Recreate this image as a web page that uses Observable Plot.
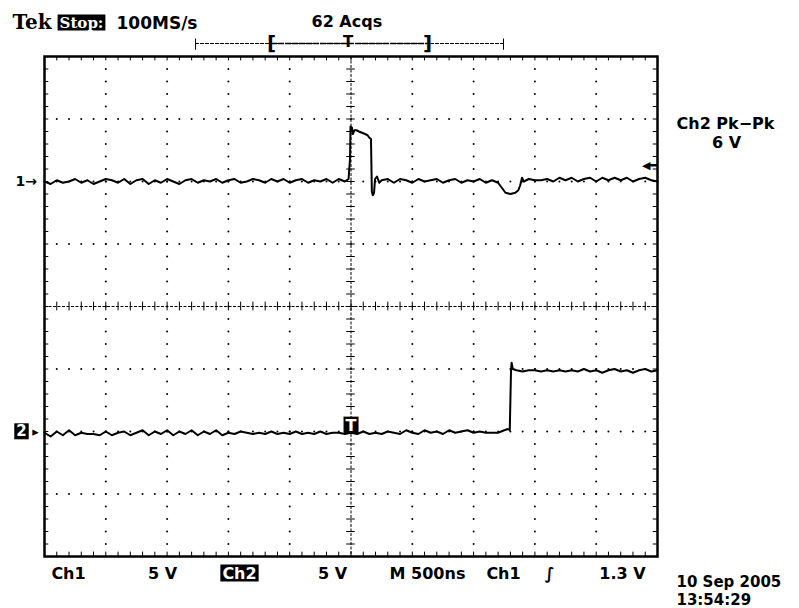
<!DOCTYPE html>
<html><head><meta charset="utf-8">
<script src="https://cdn.jsdelivr.net/npm/d3@7"></script>
<script src="https://cdn.jsdelivr.net/npm/@observablehq/plot@0.6"></script>
<style>
html,body{margin:0;padding:0;background:#fff;}
#chart svg{display:block;}
</style></head><body><div id="chart"></div>
<script>
// ---------- DATA ----------
// time in ns (trigger at 0), volts per channel
const ch1Samples = [
[-2500,0.0],[-2450,-0.2],[-2400,0.1],[-2350,-0.1],[-2300,0.0],[-2250,0.2],[-2200,-0.1],[-2150,0.1],
[-2100,-0.2],[-2050,0.0],[-2000,0.2],[-1950,0.1],[-1900,-0.1],[-1850,0.2],[-1800,-0.2],[-1750,0.1],
[-1700,0.2],[-1650,-0.2],[-1600,0.1],[-1550,-0.1],[-1500,0.2],[-1450,0.0],[-1400,-0.2],[-1350,0.1],
[-1300,0.2],[-1250,-0.1],[-1200,0.1],[-1150,0.0],[-1100,0.2],[-1050,-0.1],[-1000,0.1],[-950,0.2],
[-900,-0.1],[-850,0.0],[-800,0.2],[-750,0.1],[-700,-0.1],[-650,0.2],[-600,0.0],[-550,0.2],
[-500,-0.1],[-450,0.1],[-400,0.2],[-350,-0.1],[-300,0.1],[-250,0.0],[-200,0.2],[-150,-0.1],
[-100,0.2],[-50,0.0],[-20,0.2],[-8,1.8],[-4,4.4],[8,4.3],[16,3.8],[28,4.1],[45,4.1],[65,4.0],
[90,3.9],[115,3.8],[135,3.7],[150,3.5],[163,3.4],[170,-0.8],[178,-1.1],[188,-0.9],[196,0.2],
[212,0.4],[230,-0.1],[250,0.1],[300,0.2],[350,-0.1],[400,0.2],[450,0.1],[500,-0.1],[550,0.2],
[600,0.0],[650,0.1],[700,0.2],[750,-0.1],[800,0.1],[850,0.2],[900,-0.1],[950,0.1],[1000,0.0],
[1050,0.2],[1100,-0.1],[1150,0.1],[1200,-0.1],[1230,-0.5],[1260,-0.9],[1300,-1.0],[1340,-0.9],
[1365,-0.7],[1380,-0.3],[1395,0.3],[1410,0.0],[1450,0.2],[1500,0.1],[1550,0.1],[1600,0.2],
[1650,0.0],[1700,0.3],[1750,0.1],[1800,0.3],[1850,0.0],[1900,0.2],[1950,0.3],[2000,0.0],
[2050,0.3],[2100,0.1],[2150,0.3],[2200,0.1],[2250,0.3],[2300,0.0],[2350,0.2],[2400,0.3],
[2450,0.1],[2500,0.0]
];
const ch2Samples = [
[-2500,-0.1],[-2450,-0.4],[-2400,0.0],[-2350,-0.3],[-2300,0.1],[-2250,-0.3],[-2200,-0.1],[-2150,-0.2],
[-2100,-0.2],[-2050,-0.3],[-2000,0.0],[-1950,-0.3],[-1900,-0.1],[-1850,0.0],[-1800,-0.3],[-1750,-0.1],
[-1700,0.1],[-1650,-0.3],[-1600,0.0],[-1550,-0.2],[-1500,0.1],[-1450,-0.3],[-1400,0.0],[-1350,-0.2],
[-1300,0.1],[-1250,-0.3],[-1200,0.0],[-1150,-0.2],[-1100,0.1],[-1050,-0.3],[-1000,-0.1],[-950,-0.2],
[-900,0.0],[-850,-0.1],[-800,-0.2],[-750,-0.1],[-700,-0.2],[-650,0.0],[-600,-0.2],[-550,-0.1],
[-500,-0.2],[-450,0.0],[-400,-0.2],[-350,-0.1],[-300,-0.2],[-250,0.0],[-200,-0.2],[-150,-0.1],
[-100,-0.1],[-50,-0.2],[0,-0.1],[50,-0.2],[100,0.0],[150,-0.2],[200,-0.1],[250,-0.2],[300,0.0],
[350,-0.1],[400,-0.2],[450,0.1],[500,-0.1],[550,-0.2],[600,0.1],[650,-0.1],[700,0.0],[750,-0.2],
[800,0.1],[850,-0.1],[900,0.0],[950,0.1],[1000,-0.1],[1050,0.0],[1100,-0.1],[1150,-0.1],[1200,-0.1],
[1250,0.1],[1280,0.2],[1295,0.1],[1305,4.8],[1310,5.5],[1320,5.0],[1350,4.9],[1400,4.8],[1450,4.9],
[1500,4.9],[1550,4.8],[1600,4.9],[1650,4.8],[1700,4.9],[1750,4.8],[1800,4.9],[1850,4.8],[1900,5.0],
[1950,4.8],[2000,4.9],[2050,4.7],[2100,4.9],[2150,5.0],[2200,4.8],[2250,4.9],[2300,4.7],[2350,4.9],
[2400,5.0],[2450,4.8],[2500,4.9]
];
const majorTimes = [-2500,-2000,-1500,-1000,-500,0,500,1000,1500,2000,2500];
const majorDivs = [-4,-3,-2,-1,0,1,2,3,4];
const ch1OffsetDiv = 2;
const ch2OffsetDiv = -2;
const voltsPerDiv = 5;
const triggerLevelV = 1.3;
const recordSpan = [-1268, 1244];
const viewSpan = [-648, 624];
const headerLabels = ["Tek", "Stop:", "100MS/s", "62 Acqs"];
const measureLabels = ["Ch2 Pk\u2212Pk", "6 V"];
const footerLabels = ["Ch1", "5 V", "Ch2", "5 V", "M 500ns", "Ch1", "\u222B", "1.3 V"];
const dateLabels = ["10 Sep 2005", "13:54:29"];

// ---------- LAYOUT ----------
const W = 799, H = 608, ML = 44, MR = 142, MT = 56, MB = 52;
const F = "DejaVu Sans, Liberation Sans, sans-serif";
const minorT = d3.range(-25, 26).map(i => i * 100);
const minorY = d3.range(-20, 21).map(i => i / 5);

const hDots = [];
for (const y of majorDivs) if (y !== -4 && y !== 0 && y !== 4)
  for (const t of minorT) if (t !== -2500 && t !== 2500) hDots.push({t, y});
const vDots = [];
for (const t of majorTimes) if (t !== -2500 && t !== 0 && t !== 2500)
  for (const y of minorY) if (y !== -4 && y !== 4) vDots.push({t, y});

const ch1 = ch1Samples.map(([t, v]) => ({t, y: ch1OffsetDiv + v / voltsPerDiv}));
const ch2 = ch2Samples.map(([t, v]) => ({t, y: ch2OffsetDiv + v / voltsPerDiv}));

function label(text, px, py, o = {}) {
  return Plot.text([text], {
    text: d => d, frameAnchor: "top-left", dx: px - ML, dy: py - MT,
    textAnchor: o.anchor || "start", lineAnchor: "bottom",
    fontSize: o.size || 17, fontWeight: o.weight || "bold",
    fontFamily: o.family || F, fill: o.fill || "black"
  });
}
const tk = 0.07, tkT = 35;

const svg = Plot.plot({
  width: W, height: H, marginLeft: ML, marginRight: MR, marginTop: MT, marginBottom: MB,
  x: {domain: [-2500, 2500], axis: null},
  y: {domain: [-4, 4], axis: null},
  style: {background: "white", overflow: "visible"},
  marks: [
    Plot.dot(hDots, {x: "t", y: "y", r: 1, fill: "black"}),
    Plot.dot(vDots, {x: "t", y: "y", r: 1, fill: "black"}),
    Plot.ruleY([0], {strokeWidth: 1, strokeDasharray: "3,1.5"}),
    Plot.ruleX([0], {strokeWidth: 1, strokeDasharray: "3,1.5"}),
    Plot.ruleX(minorT, {x: d => d, y1: -tk, y2: tk, strokeWidth: 1}),
    Plot.ruleY(minorY, {y: d => d, x1: -tkT, x2: tkT, strokeWidth: 1}),
    Plot.ruleX(minorT, {x: d => d, y1: 4, y2: 4 - tk, strokeWidth: 1}),
    Plot.ruleX(minorT, {x: d => d, y1: -4, y2: -4 + tk, strokeWidth: 1}),
    Plot.ruleY(minorY, {y: d => d, x1: -2500, x2: -2500 + tkT, strokeWidth: 1}),
    Plot.ruleY(minorY, {y: d => d, x1: 2500, x2: 2500 - tkT, strokeWidth: 1}),
    Plot.frame({stroke: "black", strokeWidth: 2.5}),
    Plot.line(ch1, {x: "t", y: "y", stroke: "black", strokeWidth: 2, strokeLinejoin: "round"}),
    Plot.line(ch2, {x: "t", y: "y", stroke: "black", strokeWidth: 2, strokeLinejoin: "round"}),
    // record bar above the frame
    Plot.ruleY([4], {x1: recordSpan[0], x2: recordSpan[1], dy: -13, strokeWidth: 1, strokeDasharray: "4,1"}),
    Plot.ruleY([4], {x1: viewSpan[0], x2: viewSpan[1], dy: -13, strokeWidth: 1.5, strokeDasharray: "6,1"}),
    Plot.ruleX(recordSpan, {x: d => d, y1: 4 + 0.1, y2: 4 + 0.28, strokeWidth: 1}),
    Plot.text(["["], {x: viewSpan[0], y: 4, dy: -13, text: d => d, fontSize: 20, fontWeight: "bold", fontFamily: F, lineAnchor: "middle"}),
    Plot.text(["]"], {x: viewSpan[1], y: 4, dy: -13, text: d => d, fontSize: 20, fontWeight: "bold", fontFamily: F, lineAnchor: "middle"}),
    Plot.text(["T"], {x: 0, y: 4, dy: -14, dx: -3, text: d => d, fontSize: 15, fontWeight: "bold", fontFamily: F, lineAnchor: "middle"}),
    // channel ground markers & trigger level
    Plot.text(["1\u2192"], {x: -2500, y: ch1OffsetDiv, dx: -29, text: d => d, textAnchor: "start", lineAnchor: "middle", fontSize: 14, fontWeight: "bold", fontFamily: F}),
    Plot.text(["2"], {x: -2500, y: ch2OffsetDiv, dx: -23, text: d => d, textAnchor: "middle", lineAnchor: "middle", fontSize: 15, fontWeight: "bold", fontFamily: F, fill: "white"}),
    Plot.text(["\u25B8"], {x: -2500, y: ch2OffsetDiv, dx: -9, text: d => d, textAnchor: "middle", lineAnchor: "middle", fontSize: 13, fontFamily: F}),
    Plot.ruleY([ch1OffsetDiv + triggerLevelV / voltsPerDiv], {x1: 2420, x2: 2500, strokeWidth: 2.5}),
    Plot.text(["\u25C0"], {x: 2500, y: ch1OffsetDiv + triggerLevelV / voltsPerDiv, dx: -7, text: d => d, textAnchor: "end", lineAnchor: "middle", fontSize: 11, fontFamily: F}),
    Plot.text(["T"], {x: 0, y: ch2OffsetDiv, dy: -6, text: d => d, textAnchor: "middle", lineAnchor: "middle", fontSize: 16, fontWeight: "bold", fontFamily: F, fill: "white"}),
    // header
    label(headerLabels[0], 12, 28, {family: "DejaVu Serif, Liberation Serif, serif", size: 20}),
    label(headerLabels[1], 81, 27, {family: "DejaVu Serif, Liberation Serif, serif", size: 15, anchor: "middle", fill: "white"}),
    label(headerLabels[2], 116, 28, {size: 17}),
    label(headerLabels[3], 311, 26, {size: 16}),
    // measurement
    label(measureLabels[0], 676, 128, {size: 16}),
    label(measureLabels[1], 726, 147, {size: 16, anchor: "middle"}),
    // footer
    label(footerLabels[0], 68, 578, {size: 16, anchor: "middle"}),
    label(footerLabels[1], 162, 578, {size: 16, anchor: "middle"}),
    label(footerLabels[2], 239, 578, {size: 16, anchor: "middle", fill: "white"}),
    label(footerLabels[3], 332, 578, {size: 16, anchor: "middle"}),
    label(footerLabels[4], 427, 578, {size: 16, anchor: "middle"}),
    label(footerLabels[5], 503, 578, {size: 16, anchor: "middle"}),
    label(footerLabels[6], 549, 578, {size: 16, anchor: "middle"}),
    label(footerLabels[7], 622, 578, {size: 16, anchor: "middle"}),
    label(dateLabels[0], 676, 586, {size: 15}),
    label(dateLabels[1], 676, 604, {size: 15})
  ]
});
document.getElementById("chart").append(svg);

// black boxes behind white text
const NS = "http://www.w3.org/2000/svg";
svg.querySelectorAll('g[aria-label="text"]').forEach(g => {
  if (g.getAttribute("fill") !== "white") return;
  g.querySelectorAll("text").forEach(t => {
    const b = t.getBBox();
    const r = document.createElementNS(NS, "rect");
    r.setAttribute("x", b.x - 2);
    r.setAttribute("y", b.y + 1);
    r.setAttribute("width", b.width + 4);
    r.setAttribute("height", b.height - 2);
    r.setAttribute("fill", "black");
    if (t.getAttribute("transform")) r.setAttribute("transform", t.getAttribute("transform"));
    t.parentNode.insertBefore(r, t);
  });
});
</script></body></html>
